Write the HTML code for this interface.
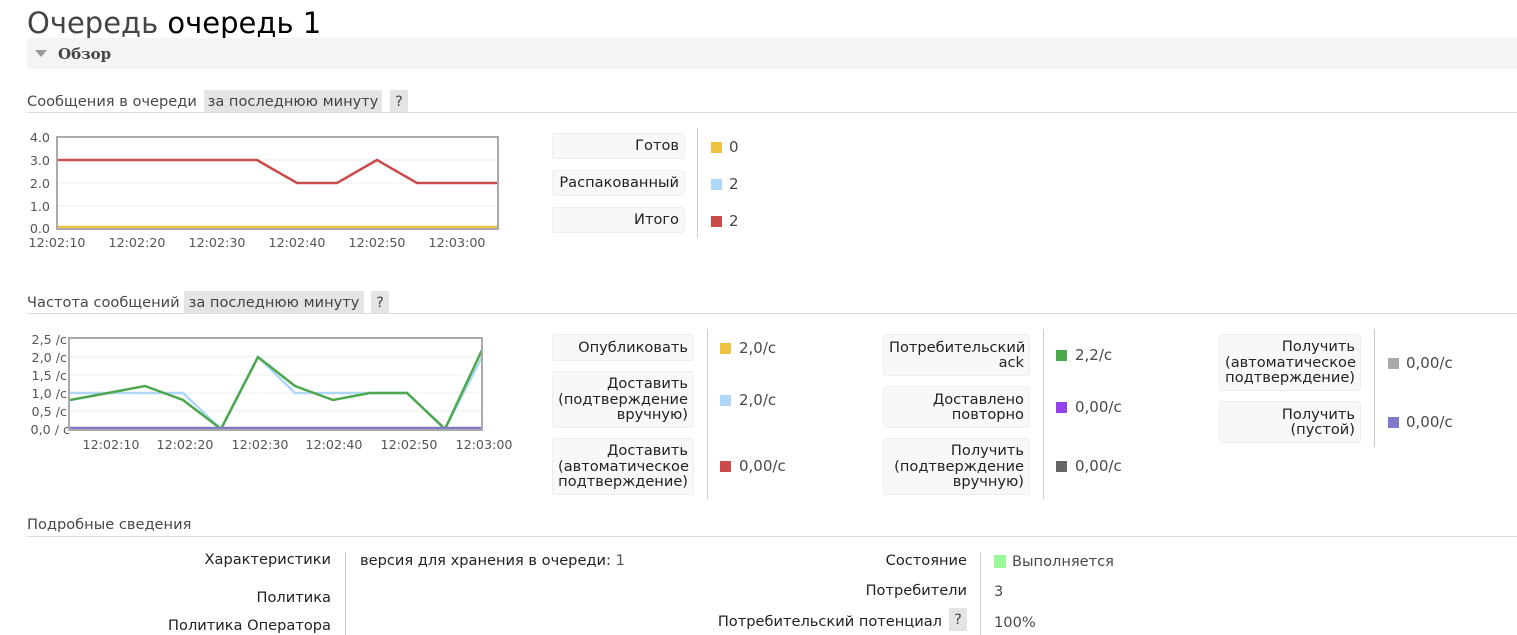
<!DOCTYPE html>
<html><head><meta charset="utf-8"><style>
body{margin:0;width:1517px;height:635px;background:#fff;position:relative;overflow:hidden;font-family:"DejaVu Sans","Liberation Sans",sans-serif;font-size:14.6px;color:#484848}
.a{position:absolute;white-space:nowrap}
.box{position:absolute;background:#f8f8f8;border:1px solid #eee;border-radius:3px;text-align:right;color:#222;line-height:15.5px;box-sizing:border-box;padding:2px 5px;display:flex;flex-direction:column;justify-content:center;font-size:14.6px;white-space:nowrap}
.sep{position:absolute;width:1px;background:#ccc}
.sw{position:absolute;width:11px;height:11px}
.v{position:absolute;font-size:15px;color:#484848;white-space:nowrap}
.pill{position:absolute;background:#e4e4e4;height:22px;line-height:24px;color:#444;font-size:14.6px;text-align:center;white-space:nowrap;overflow:hidden}
.hl{position:absolute;left:27px;right:0;height:1px;background:#ddd}
.r{text-align:right}
</style></head><body>
<div class="a" style="left:27px;top:5px;font-size:29px;color:#444;line-height:36px">Очередь <span style="color:#000">очередь 1</span></div>
<div class="a" style="left:27px;top:38px;width:1490px;height:31px;background:#f4f4f4"></div>
<div class="a" style="left:35px;top:50px;width:0;height:0;border-left:6px solid transparent;border-right:6px solid transparent;border-top:7px solid #999"></div>
<div class="a" style="left:58px;top:44px;font-family:'DejaVu Serif',serif;font-weight:bold;font-size:15px;color:#444;line-height:20px">Обзор</div>

<div class="a" style="left:27px;top:92px;line-height:20px">Сообщения в очереди</div>
<div class="pill" style="left:204px;top:90px;width:178px">за последнюю минуту</div>
<div class="pill" style="left:390px;top:90px;width:18px">?</div>
<div class="hl" style="top:112px"></div>

<svg class="a" style="left:0;top:120px" width="520" height="140" font-family="DejaVu Sans,sans-serif" font-size="12.7" fill="#555">
<g stroke="#eee" stroke-width="1"><line x1="58" y1="40" x2="497" y2="40"/><line x1="58" y1="63" x2="497" y2="63"/><line x1="58" y1="86" x2="497" y2="86"/></g>
<text x="50" y="22" text-anchor="end">4.0</text><text x="50" y="45" text-anchor="end">3.0</text><text x="50" y="68" text-anchor="end">2.0</text><text x="50" y="91" text-anchor="end">1.0</text><text x="50" y="113" text-anchor="end">0.0</text>
<polyline fill="none" stroke="#c94c4c" stroke-width="2.5" points="58,40 257,40 297,63 337,63 377,40 417,63 497,63"/>
<line x1="58" y1="107.5" x2="497" y2="107.5" stroke="#edc240" stroke-width="3.5"/>
<rect x="57" y="17" width="441" height="92" fill="none" stroke="#aaa" stroke-width="2"/>
<g text-anchor="middle"><text x="57" y="127">12:02:10</text><text x="137" y="127">12:02:20</text><text x="217" y="127">12:02:30</text><text x="297" y="127">12:02:40</text><text x="377" y="127">12:02:50</text><text x="457" y="127">12:03:00</text></g>
</svg>

<div class="box" style="left:552px;top:133px;width:133px;height:26px">Готов</div>
<div class="box" style="left:552px;top:170px;width:133px;height:26px">Распакованный</div>
<div class="box" style="left:552px;top:207px;width:133px;height:26px">Итого</div>
<div class="sep" style="left:697px;top:128px;height:110px"></div>
<div class="sw" style="left:711px;top:142px;background:#edc240"></div><div class="v" style="left:729px;top:138px">0</div>
<div class="sw" style="left:711px;top:179px;background:#afd8f8"></div><div class="v" style="left:729px;top:175px">2</div>
<div class="sw" style="left:711px;top:216px;background:#cb4b4b"></div><div class="v" style="left:729px;top:212px">2</div>

<div class="a" style="left:27px;top:293px;line-height:20px">Частота сообщений</div>
<div class="pill" style="left:184px;top:291px;width:180px">за последнюю минуту</div>
<div class="pill" style="left:371px;top:291px;width:18px">?</div>
<div class="hl" style="top:313px"></div>

<svg class="a" style="left:0;top:330px" width="540" height="130" font-family="DejaVu Sans,sans-serif" font-size="12.7" fill="#555">
<g stroke="#eee"><line x1="70" y1="27" x2="482" y2="27"/><line x1="70" y1="45" x2="482" y2="45"/><line x1="70" y1="63" x2="482" y2="63"/><line x1="70" y1="81" x2="482" y2="81"/></g>
<g text-anchor="end"><text x="67" y="14">2,5 /c</text><text x="67" y="32">2,0 /c</text><text x="67" y="50">1,5 /c</text><text x="67" y="68">1,0 /c</text><text x="67" y="86">0,5 /c</text><text x="70" y="104">0,0 / c</text></g>
<polyline fill="none" stroke="#afd8f8" stroke-width="2.5" points="70,63 108,63 145,63 183,63 221,99 258,27 295,63 333,63 370,63 407,63 445,99 482,27"/>
<polyline fill="none" stroke="#4da74d" stroke-width="2.5" points="70,70 108,63 145,56 183,70 221,99 258,27 295,56 333,70 370,63 407,63 445,99 482,20"/>
<line x1="70" y1="98.5" x2="482" y2="98.5" stroke="#8079c9" stroke-width="3.5"/>
<rect x="69" y="8" width="413" height="92" fill="none" stroke="#aaa" stroke-width="2"/>
<g text-anchor="middle"><text x="111" y="119">12:02:10</text><text x="185" y="119">12:02:20</text><text x="260" y="119">12:02:30</text><text x="334" y="119">12:02:40</text><text x="409" y="119">12:02:50</text><text x="484" y="119">12:03:00</text></g>
</svg>

<div class="box" style="left:552px;top:334px;width:142px;height:27px">Опубликовать</div>
<div class="box" style="left:552px;top:371px;width:142px;height:57px">Доставить<br>(подтверждение<br>вручную)</div>
<div class="box" style="left:552px;top:438px;width:142px;height:57px">Доставить<br>(автоматическое<br>подтверждение)</div>
<div class="sep" style="left:707px;top:329px;height:170px"></div>
<div class="sw" style="left:720px;top:343px;background:#edc240"></div><div class="v" style="left:739px;top:339px">2,0/с</div>
<div class="sw" style="left:720px;top:395px;background:#afd8f8"></div><div class="v" style="left:739px;top:391px">2,0/с</div>
<div class="sw" style="left:720px;top:461px;background:#cb4b4b"></div><div class="v" style="left:739px;top:457px">0,00/с</div>

<div class="box" style="left:883px;top:334px;width:147px;height:42px">Потребительский<br>ack</div>
<div class="box" style="left:883px;top:386px;width:147px;height:42px">Доставлено<br>повторно</div>
<div class="box" style="left:883px;top:438px;width:147px;height:57px">Получить<br>(подтверждение<br>вручную)</div>
<div class="sep" style="left:1043px;top:329px;height:170px"></div>
<div class="sw" style="left:1056px;top:350px;background:#4da74d"></div><div class="v" style="left:1075px;top:346px">2,2/с</div>
<div class="sw" style="left:1056px;top:402px;background:#9440ed"></div><div class="v" style="left:1075px;top:398px">0,00/с</div>
<div class="sw" style="left:1056px;top:461px;background:#666"></div><div class="v" style="left:1075px;top:457px">0,00/с</div>

<div class="box" style="left:1219px;top:334px;width:142px;height:57px">Получить<br>(автоматическое<br>подтверждение)</div>
<div class="box" style="left:1219px;top:401px;width:142px;height:42px">Получить<br>(пустой)</div>
<div class="sep" style="left:1374px;top:329px;height:118px"></div>
<div class="sw" style="left:1388px;top:358px;background:#aaa"></div><div class="v" style="left:1406px;top:354px">0,00/с</div>
<div class="sw" style="left:1388px;top:417px;background:#8079c9"></div><div class="v" style="left:1406px;top:413px">0,00/с</div>

<div class="a" style="left:27px;top:515px;line-height:20px">Подробные сведения</div>
<div class="hl" style="top:536px"></div>
<div class="a r" style="right:1186px;top:551px;color:#222">Характеристики</div>
<div class="a r" style="right:1186px;top:589px;color:#222">Политика</div>
<div class="a r" style="right:1186px;top:617px;color:#222">Политика Оператора</div>
<div class="sep" style="left:345px;top:552px;height:83px"></div>
<div class="a" style="left:360px;top:552px;color:#222">версия для хранения в очереди: <span style="color:#555">1</span></div>
<div class="a r" style="right:550px;top:552px;color:#222">Состояние</div>
<div class="a r" style="right:550px;top:582px;color:#222">Потребители</div>
<div class="a r" style="right:575px;top:613px;color:#222">Потребительский потенциал</div>
<div class="pill" style="left:949px;top:608px;height:23px;width:18px">?</div>
<div class="sep" style="left:980px;top:552px;height:83px"></div>
<div class="sw" style="left:994px;top:555px;width:12px;height:13px;background:#98f898"></div>
<div class="a" style="left:1012px;top:553px">Выполняется</div>
<div class="a" style="left:994px;top:583px">3</div>
<div class="a" style="left:994px;top:614px">100%</div>
</body></html>
